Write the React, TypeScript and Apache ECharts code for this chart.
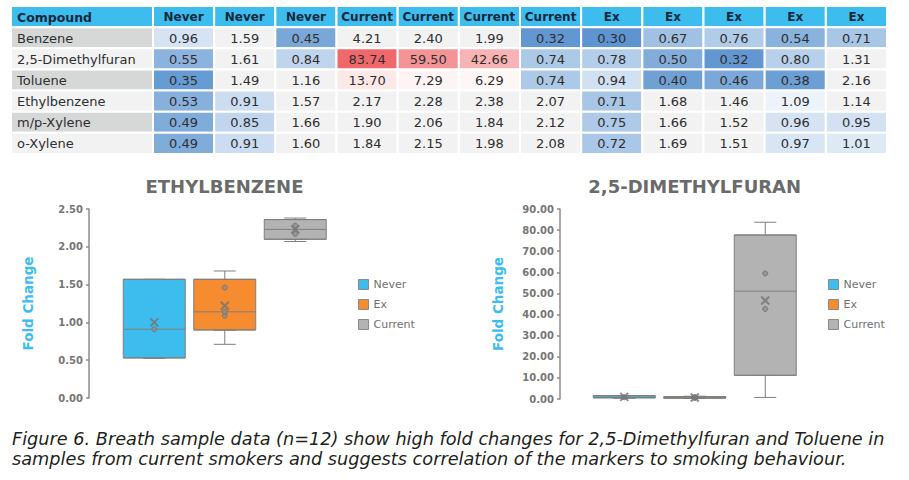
import React, { useEffect, useRef } from 'react';
import * as echarts from 'echarts';

const FONT = '"DejaVu Sans", sans-serif';

// ---------- table data ----------
const groups = ['Never', 'Never', 'Never', 'Current', 'Current', 'Current', 'Current', 'Ex', 'Ex', 'Ex', 'Ex', 'Ex'];
const compounds = ['Benzene', '2,5-Dimethylfuran', 'Toluene', 'Ethylbenzene', 'm/p-Xylene', 'o-Xylene'];
const benzene = [0.96, 1.59, 0.45, 4.21, 2.4, 1.99, 0.32, 0.3, 0.67, 0.76, 0.54, 0.71];
const dimethylfuran = [0.55, 1.61, 0.84, 83.74, 59.5, 42.66, 0.74, 0.78, 0.5, 0.32, 0.8, 1.31];
const toluene = [0.35, 1.49, 1.16, 13.7, 7.29, 6.29, 0.74, 0.94, 0.4, 0.46, 0.38, 2.16];
const ethylbenzene = [0.53, 0.91, 1.57, 2.17, 2.28, 2.38, 2.07, 0.71, 1.68, 1.46, 1.09, 1.14];
const mpXylene = [0.49, 0.85, 1.66, 1.9, 2.06, 1.84, 2.12, 0.75, 1.66, 1.52, 0.96, 0.95];
const oXylene = [0.49, 0.91, 1.6, 1.84, 2.15, 1.98, 2.08, 0.72, 1.69, 1.51, 0.97, 1.01];
const tableRows = [benzene, dimethylfuran, toluene, ethylbenzene, mpXylene, oXylene];
const rowNames = ['Compound', ...compounds];

// ---------- box plot data ([min, Q1, median, Q3, max]) ----------
const boxGroups = ['Never', 'Ex', 'Current'];
const ethylNever = [0.53, 0.53, 0.91, 1.57, 1.57];
const ethylEx = [0.71, 0.9, 1.14, 1.57, 1.68];
const ethylCurrent = [2.07, 2.1, 2.23, 2.36, 2.38];
const ethylMeans = [1.0, 1.22, 2.23];
const ethylPoints = [[0.91], [1.09, 1.14, 1.46], [2.17, 2.28]];

const furanNever = [0.55, 0.55, 0.84, 1.61, 1.61];
const furanEx = [0.32, 0.41, 0.78, 1.06, 1.31];
const furanCurrent = [0.74, 11.22, 51.08, 77.68, 83.74];
const furanMeans = [1.0, 0.74, 46.66];
const furanPoints = [[0.84], [0.5, 0.78, 0.8], [42.66, 59.5]];

const chartTitles = ['ETHYLBENZENE', '2,5-DIMETHYLFURAN'];
const chartMax = [2.5, 90];
const chartInterval = [0.5, 10];

const captionLines = [
  'Figure 6. Breath sample data (n=12) show high fold changes for 2,5-Dimethylfuran and Toluene in',
  'samples from current smokers and suggests correlation of the markers to smoking behaviour.',
];

// ---------- styles ----------
const HEADER_BG = '#3DBDED';
const HEADER_TXT = '#16283B';
const boxColors = ['#3DBDED', '#F68B2F', '#B3B3B3'];
const GRAY = '#7F7F7F';

function hexToRgb(h: string) {
  const n = parseInt(h.slice(1), 16);
  return [(n >> 16) & 255, (n >> 8) & 255, n & 255];
}
function mix(a: string, b: string, t: number) {
  const A = hexToRgb(a);
  const B = hexToRgb(b);
  const tt = Math.max(0, Math.min(1, t));
  const c = A.map((v, i) => Math.round(v + (B[i] - v) * tt));
  return 'rgb(' + c.join(',') + ')';
}
function cellColor(v: number) {
  if (v < 1.1) return mix('#5E95D0', '#EEF4FB', (v - 0.3) / 0.8);
  if (v > 5) return mix('#FFF8F8', '#F0686B', (v - 5) / 78.74);
  return '#F2F2F2';
}

const CHARTS = [
  { boxes: [ethylNever, ethylEx, ethylCurrent], means: ethylMeans, points: ethylPoints },
  { boxes: [furanNever, furanEx, furanCurrent], means: furanMeans, points: furanPoints },
];
const LAYOUT = [
  { groupLeft: 119, axisOffset: 30, top: 209, height: 189, legendLeft: 353, titleX: 224.5, nameGap: 54 },
  { groupLeft: 589, axisOffset: 29, top: 209, height: 190, legendLeft: 823, titleX: 694.7, nameGap: 55 },
];
const GROUP_W = 70.5;
const X_PATH = 'path://M0,0L10,10M10,0L0,10';

function buildOption() {
  const grid: any[] = [
    { left: 11, top: 6, width: 142, height: 148 },
    { left: 153, top: 6, width: 734, height: 148 },
  ];
  const xAxis: any[] = [
    { type: 'category', gridIndex: 0, data: ['Compound'], show: false },
    { type: 'category', gridIndex: 1, data: groups.map((g, i) => g + i), show: false },
  ];
  const yAxis: any[] = [
    { type: 'category', gridIndex: 0, data: rowNames, inverse: true, show: false },
    { type: 'category', gridIndex: 1, data: rowNames, inverse: true, show: false },
  ];
  const series: any[] = [];
  const graphic: any[] = [];
  const legend: any[] = [];

  // compound column
  series.push({
    type: 'custom',
    xAxisIndex: 0,
    yAxisIndex: 0,
    encode: { x: 0, y: 1 },
    data: rowNames.map((_, i) => [0, i]),
    renderItem: (params: any, api: any) => {
      const r = api.value(1);
      const c = api.coord([api.value(0), r]);
      const s = api.size([1, 1]);
      const bg = r === 0 ? HEADER_BG : r % 2 === 1 ? '#D6D8D8' : '#F2F2F2';
      return {
        type: 'group',
        children: [
          {
            type: 'rect',
            shape: { x: c[0] - s[0] / 2, y: c[1] - s[1] / 2, width: s[0], height: s[1] },
            style: { fill: bg, stroke: '#fff', lineWidth: 2 },
          },
          {
            type: 'text',
            x: c[0] - s[0] / 2 + 6,
            y: c[1] + 0.5,
            style: {
              text: rowNames[r],
              fill: r === 0 ? HEADER_TXT : '#2E2E2E',
              fontSize: r === 0 ? 12.5 : 13,
              fontWeight: r === 0 ? 'bold' : 'normal',
              fontFamily: FONT,
              align: 'left',
              verticalAlign: 'middle',
            },
          },
        ],
      };
    },
  });
  // header row
  series.push({
    type: 'custom',
    xAxisIndex: 1,
    yAxisIndex: 1,
    encode: { x: 0, y: 1 },
    data: groups.map((_, i) => [i, 0]),
    renderItem: (params: any, api: any) => {
      const col = api.value(0);
      const c = api.coord([col, 0]);
      const s = api.size([1, 1]);
      return {
        type: 'group',
        children: [
          {
            type: 'rect',
            shape: { x: c[0] - s[0] / 2, y: c[1] - s[1] / 2, width: s[0], height: s[1] },
            style: { fill: HEADER_BG, stroke: '#fff', lineWidth: 2 },
          },
          {
            type: 'text',
            x: c[0],
            y: c[1] + 0.5,
            style: {
              text: groups[col],
              fill: HEADER_TXT,
              fontSize: 12,
              fontWeight: 'bold',
              fontFamily: FONT,
              align: 'center',
              verticalAlign: 'middle',
            },
          },
        ],
      };
    },
  });
  // values
  const cells: number[][] = [];
  tableRows.forEach((row, r) => row.forEach((v, c) => cells.push([c, r + 1, v])));
  series.push({
    type: 'custom',
    xAxisIndex: 1,
    yAxisIndex: 1,
    encode: { x: 0, y: 1 },
    data: cells,
    renderItem: (params: any, api: any) => {
      const v = api.value(2);
      const c = api.coord([api.value(0), api.value(1)]);
      const s = api.size([1, 1]);
      return {
        type: 'group',
        children: [
          {
            type: 'rect',
            shape: { x: c[0] - s[0] / 2, y: c[1] - s[1] / 2, width: s[0], height: s[1] },
            style: { fill: cellColor(v), stroke: '#fff', lineWidth: 2 },
          },
          {
            type: 'text',
            x: c[0],
            y: c[1] + 0.5,
            style: {
              text: v.toFixed(2),
              fill: '#2E2E2E',
              fontSize: 13,
              fontFamily: FONT,
              align: 'center',
              verticalAlign: 'middle',
            },
          },
        ],
      };
    },
  });

  // box plots
  CHARTS.forEach((ch, ci) => {
    const L = LAYOUT[ci];
    boxGroups.forEach((gName, g) => {
      const gi = grid.length;
      grid.push({ left: L.groupLeft + g * GROUP_W, top: L.top, width: GROUP_W, height: L.height });
      const xBox = xAxis.length;
      xAxis.push({ type: 'category', gridIndex: gi, data: [gName], show: false });
      const xWh = xAxis.length;
      xAxis.push({ type: 'category', gridIndex: gi, data: [gName], show: false });
      yAxis.push({
        type: 'value',
        gridIndex: gi,
        min: 0,
        max: chartMax[ci],
        interval: chartInterval[ci],
        show: g === 0,
        offset: L.axisOffset,
        axisLine: { show: true, lineStyle: { color: '#8C8C8C', width: 1.5 } },
        axisTick: { show: true, length: 3, lineStyle: { color: '#8C8C8C', width: 1.5 } },
        axisLabel: {
          formatter: (v: number) => v.toFixed(2),
          color: '#767676',
          fontSize: 10,
          fontWeight: 'bold',
          fontFamily: FONT,
          margin: 6,
        },
        splitLine: { show: false },
        name: g === 0 ? 'Fold Change' : '',
        nameLocation: 'middle',
        nameGap: L.nameGap,
        nameTextStyle: { color: '#3DBDED', fontSize: 13.5, fontWeight: 'bold', fontFamily: FONT },
      });
      const yi = yAxis.length - 1;
      const b = ch.boxes[g];
      series.push({
        type: 'boxplot',
        name: gName + ' range',
        xAxisIndex: xWh,
        yAxisIndex: yi,
        boxWidth: [22, 22],
        data: [[b[0], b[1], b[1], b[1], b[4]]],
        itemStyle: { color: 'rgba(0,0,0,0)', borderColor: GRAY, borderWidth: 1 },
        emphasis: { disabled: true },
        z: 2,
      });
      series.push({
        type: 'boxplot',
        name: gName,
        xAxisIndex: xBox,
        yAxisIndex: yi,
        boxWidth: [62, 62],
        data: [[b[1], b[1], b[2], b[3], b[3]]],
        itemStyle: { color: boxColors[g], borderColor: GRAY, borderWidth: 1 },
        emphasis: { disabled: true },
        z: 3,
      });
      series.push({
        type: 'scatter',
        name: gName + ' points',
        xAxisIndex: xBox,
        yAxisIndex: yi,
        data: ch.points[g].map((v) => [0, v]),
        symbol: 'circle',
        symbolSize: 5,
        itemStyle: { color: '#8E8E8E', borderColor: '#6E6E6E', borderWidth: 1 },
        emphasis: { disabled: true },
        z: 4,
      });
      series.push({
        type: 'scatter',
        name: gName + ' mean',
        xAxisIndex: xBox,
        yAxisIndex: yi,
        data: [[0, ch.means[g]]],
        symbol: X_PATH,
        symbolSize: 8,
        itemStyle: { color: 'rgba(0,0,0,0)', borderColor: '#737373', borderWidth: 2 },
        emphasis: { disabled: true },
        z: 5,
      });
    });
    legend.push({
      data: boxGroups.map((n, i) => ({
        name: n,
        itemStyle: { color: boxColors[i], borderColor: '#8A8A8A', borderWidth: 1 },
      })),
      orient: 'vertical',
      left: L.legendLeft,
      top: 274,
      icon: 'rect',
      itemWidth: 10,
      itemHeight: 10,
      itemGap: 9,
      selectedMode: false,
      itemStyle: { borderColor: '#8A8A8A', borderWidth: 1 },
      textStyle: { color: '#707070', fontSize: 11, fontFamily: FONT },
    });
    graphic.push({
      type: 'text',
      x: L.titleX,
      y: 186,
      style: {
        text: chartTitles[ci],
        fill: '#6B6B6B',
        fontSize: 18,
        fontWeight: 'bold',
        fontFamily: FONT,
        align: 'center',
        verticalAlign: 'middle',
      },
    });
  });

  graphic.push({
    type: 'text',
    x: 12,
    y: 429,
    style: {
      text: captionLines.join('\n'),
      fill: '#231F20',
      fontSize: 17.7,
      fontStyle: 'italic',
      fontFamily: FONT,
      lineHeight: 20,
      align: 'left',
      verticalAlign: 'top',
    },
  });

  return {
    animation: false,
    backgroundColor: '#ffffff',
    textStyle: { fontFamily: FONT },
    grid,
    xAxis,
    yAxis,
    legend,
    series,
    graphic,
  };
}

export default function App() {
  const ref = useRef<HTMLDivElement>(null);
  useEffect(() => {
    if (!ref.current) return;
    const chart = echarts.init(ref.current, undefined, { renderer: 'svg' });
    chart.setOption(buildOption() as any);
    return () => chart.dispose();
  }, []);
  return (
    <div
      ref={ref}
      style={{ position: 'fixed', left: 0, top: 0, width: 909, height: 480, background: '#fff' }}
    />
  );
}
